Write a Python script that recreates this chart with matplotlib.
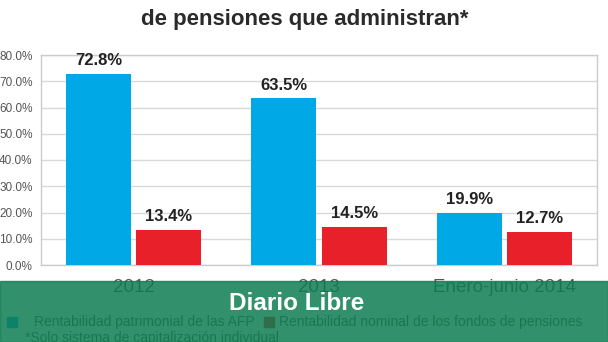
import matplotlib
matplotlib.use("Agg")
import matplotlib.pyplot as plt
from matplotlib.patches import Rectangle
import numpy as np

categories = ["2012", "2013", "Enero-junio 2014"]
rent_afp = [72.8, 63.5, 19.9]
rent_fondos = [13.4, 14.5, 12.7]
y_ticks = [0, 10, 20, 30, 40, 50, 60, 70, 80]
legend_labels = ["Rentabilidad patrimonial de las AFP",
                 "Rentabilidad nominal de los fondos de pensiones"]
title = "de pensiones que administran*"
footnote = "*Solo sistema de capitalización individual"

BLUE = "#00a9e6"
RED = "#e8202a"
FONT = "Liberation Sans"
W, H = 608, 342

fig = plt.figure(figsize=(W / 100, H / 100), dpi=100)
ax = fig.add_axes([41 / W, 1 - 265 / H, 556 / W, 210 / H])

x = np.arange(len(categories))
bw = 0.35
off = 0.19
b1 = ax.bar(x - off, rent_afp, bw, color=BLUE, zorder=3)
b2 = ax.bar(x + off, rent_fondos, bw, color=RED, zorder=3)

for bars, vals in ((b1, rent_afp), (b2, rent_fondos)):
    for b, v in zip(bars, vals):
        ax.annotate(f"{v:.1f}%", (b.get_x() + b.get_width() / 2, v),
                    xytext=(0, 4), textcoords="offset points",
                    ha="center", va="bottom", fontsize=12, fontweight="bold",
                    color="#222222", family=FONT)

ax.set_xlim(-0.5, 2.5)
ax.set_ylim(0, 80)
ax.set_yticks(y_ticks)
ax.set_yticklabels([f"{t:.1f}%" for t in y_ticks], family=FONT,
                   fontsize=8.5, color="#555555")
ax.set_xticks(x)
ax.set_xticklabels(categories, family=FONT, fontsize=13.5, color="#555555")
ax.tick_params(axis="both", length=0)
ax.tick_params(axis="y", pad=6)
ax.tick_params(axis="x", pad=10)
ax.grid(axis="y", color="#d9d9d9", linewidth=1, zorder=0)
for s in ax.spines.values():
    s.set_color("#cccccc")
    s.set_linewidth(1)

fig.text(305 / W, 1 - 19 / H, title, ha="center", va="center", fontsize=16,
         fontweight="bold", color="#2a2a2a", family=FONT)

# legend, sits under the banner
fig.add_artist(Rectangle((7 / W, 1 - 327 / H), 10 / W, 10 / H, color=BLUE,
                         transform=fig.transFigure, zorder=1))
fig.add_artist(Rectangle((264 / W, 1 - 327 / H), 10 / W, 10 / H, color=RED,
                         transform=fig.transFigure, zorder=1))
fig.text(34 / W, 1 - 322 / H, legend_labels[0], ha="left", va="center",
         fontsize=10, color="#555555", family=FONT, zorder=1)
fig.text(279 / W, 1 - 322 / H, legend_labels[1], ha="left", va="center",
         fontsize=10, color="#555555", family=FONT, zorder=1)
fig.text(25 / W, 1 - 338 / H, footnote, ha="left", va="center",
         fontsize=10, color="#555555", family=FONT, zorder=1)

# green banner overlay
fig.add_artist(Rectangle((0, 0), 1, 1 - 281 / H, color="#0f7d52", alpha=0.85,
                         transform=fig.transFigure, zorder=5))
fig.text(297 / W, 1 - 304 / H, "Diario Libre", ha="center", va="center",
         fontsize=17.5, fontweight="bold", color="white", family=FONT, zorder=10)

fig.savefig("out.png", dpi=100)
